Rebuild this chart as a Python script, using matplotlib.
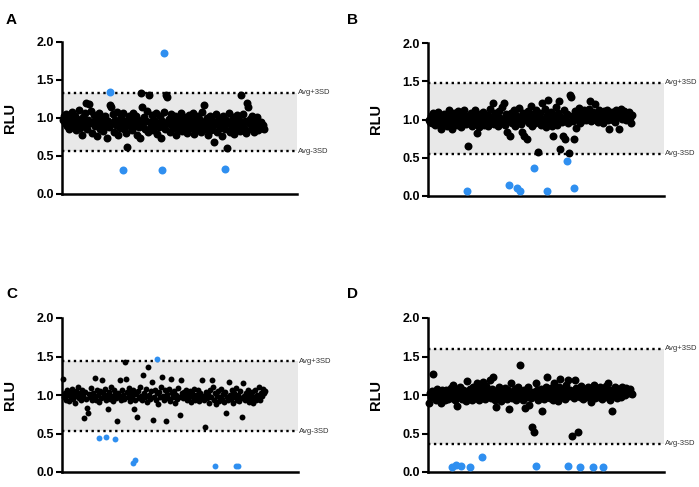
import numpy as np
import matplotlib
matplotlib.use("Agg")
import matplotlib.pyplot as plt
import matplotlib.transforms as mtransforms

plt.rcParams['font.family'] = ['Liberation Sans', 'DejaVu Sans']

# ---------------- data ----------------
panel_labels = ["A", "B", "C", "D"]

a_black = [0.97, 1.02, 0.93, 1.05, 0.90, 0.98, 0.86, 1.00, 0.94, 1.08, 0.88, 0.95, 1.03, 0.84, 0.99, 0.92, 1.10, 0.87, 0.96, 0.78,
           1.01, 0.91, 1.06, 1.20, 0.85, 0.97, 1.19, 0.93, 1.09, 0.80, 0.95, 1.04, 0.89, 0.99, 0.76, 0.94, 1.07, 0.86, 1.00, 0.92,
           0.83, 0.98, 1.03, 0.90, 0.74, 0.96, 0.88, 1.17, 1.14, 0.93, 1.05, 0.82, 0.97, 0.91, 1.08, 0.78, 0.95, 0.87, 1.01, 0.93,
           1.06, 0.85, 0.96, 0.80, 0.62, 0.92, 1.03, 0.89, 0.99, 0.84, 1.07, 0.94, 0.90, 1.02, 0.78, 0.97, 0.88, 0.74, 1.33, 1.14,
           0.93, 1.01, 0.86, 0.96, 1.09, 0.81, 1.30, 0.95, 0.90, 1.04, 0.84, 0.98, 0.92, 1.06, 0.79, 0.94, 0.88, 1.02, 0.74, 0.96,
           0.91, 1.08, 0.85, 1.30, 1.27, 0.93, 0.99, 0.82, 1.05, 0.90, 0.96, 0.87, 1.03, 0.78, 0.94, 1.00, 0.86, 0.97, 0.92, 1.07,
           0.83, 0.95, 1.01, 0.89, 0.98, 0.80, 0.93, 1.04, 0.87, 0.96, 0.91, 1.06, 0.79, 0.99, 0.85, 0.94, 1.02, 0.88, 0.97, 0.82,
           1.08, 0.93, 1.17, 0.86, 0.95, 1.00, 0.78, 0.91, 1.03, 0.84, 0.97, 0.89, 0.69, 0.94, 1.05, 0.81, 0.92, 0.99, 0.87, 0.96,
           0.76, 1.02, 0.90, 0.85, 0.97, 0.60, 0.93, 1.06, 0.82, 0.95, 0.88, 1.01, 0.79, 0.94, 0.86, 1.04, 0.91, 0.98, 0.83, 1.30,
           0.92, 1.05, 0.87, 0.96, 0.80, 1.20, 1.15, 0.93, 0.99, 0.85, 1.03, 0.90, 0.82, 0.97, 0.88, 1.01, 0.84, 0.93, 0.89, 0.95,
           0.87, 0.91, 0.86]
a_blue_x = [47, 60, 101, 99, 163]
a_blue_y = [1.34, 0.31, 1.85, 0.31, 0.33]
a_upper, a_lower = 1.33, 0.56

b_black = [1.00, 0.97, 1.04, 0.95, 1.08, 1.01, 0.93, 1.06, 0.99, 1.10, 0.96, 1.03, 0.87, 1.02, 0.94, 1.07, 0.98, 1.05, 0.92, 1.01,
           1.12, 0.95, 1.03, 0.88, 1.00, 1.09, 0.97, 1.04, 0.93, 1.11, 0.99, 1.02, 0.90, 1.06, 0.96, 1.13, 1.00, 0.94, 1.05, 0.65,
           1.01, 0.97, 1.08, 0.92, 1.03, 0.99, 1.12, 0.95, 0.82, 1.04, 0.90, 1.07, 1.00, 0.96, 1.10, 0.93, 1.02, 0.98, 1.06, 0.91,
           1.04, 1.14, 0.97, 1.01, 1.22, 0.94, 1.08, 0.99, 1.05, 0.92, 1.11, 1.02, 0.96, 1.16, 1.00, 1.22, 0.93, 1.07, 0.84, 1.03,
           0.98, 0.79, 1.09, 0.95, 1.04, 1.13, 0.91, 1.06, 1.00, 0.97, 1.15, 1.02, 0.94, 0.84, 1.08, 0.78, 0.99, 1.05, 0.74, 1.11,
           0.96, 1.03, 1.18, 0.92, 1.07, 1.00, 0.95, 1.12, 1.04, 0.58, 0.98, 1.09, 0.93, 1.21, 1.01, 0.97, 1.14, 0.90, 1.06, 1.25,
           1.02, 0.95, 1.10, 0.91, 0.78, 1.05, 0.99, 1.16, 0.93, 1.08, 1.24, 0.62, 1.03, 0.97, 0.78, 1.13, 0.74, 1.00, 1.07, 0.95,
           0.56, 1.32, 1.29, 1.04, 0.98, 0.74, 1.11, 0.89, 1.06, 1.01, 1.15, 0.96, 1.09, 1.03, 0.99, 1.12, 1.05, 1.00, 1.08, 1.02,
           1.14, 1.24, 0.98, 1.06, 1.10, 1.03, 1.20, 1.00, 1.07, 0.97, 1.12, 1.04, 1.09, 1.01, 0.95, 1.11, 1.06, 1.02, 1.13, 0.99,
           0.87, 1.08, 1.04, 1.10, 1.00, 1.06, 0.97, 1.12, 1.03, 1.09, 0.88, 1.05, 1.14, 1.01, 1.07, 1.11, 1.03, 0.99, 1.08, 1.04,
           1.10, 1.02, 0.95, 1.06]
b_blue_x = [38, 80, 88, 91, 105, 118, 138, 145]
b_blue_y = [0.065, 0.15, 0.11, 0.07, 0.37, 0.07, 0.46, 0.10]
b_upper, b_lower = 1.48, 0.55

c_black = [1.21, 0.98, 1.03, 0.94, 1.06, 1.00, 0.92, 1.04, 0.97, 1.08, 0.95, 1.01, 0.90, 1.05, 0.99, 1.10, 0.96, 1.02, 0.93, 1.07,
           0.99, 0.70, 1.04, 0.95, 0.83, 0.76, 1.01, 0.97, 1.09, 0.93, 1.03, 0.98, 1.22, 0.94, 1.06, 1.00, 0.91, 1.05, 0.96, 1.19,
           1.02, 0.97, 1.08, 0.93, 1.00, 0.82, 1.04, 0.95, 1.10, 0.99, 0.92, 1.06, 1.01, 0.96, 0.66, 1.03, 0.98, 1.19, 0.94, 1.07,
           1.00, 0.95, 1.43, 1.21, 1.04, 0.97, 1.09, 0.92, 1.02, 0.98, 1.06, 0.82, 0.94, 1.01, 0.71, 1.05, 0.96, 1.11, 0.99, 0.93,
           1.26, 1.03, 0.97, 1.08, 0.91, 1.36, 1.00, 0.95, 1.05, 1.17, 0.68, 0.98, 1.07, 0.93, 1.02, 0.88, 1.04, 0.97, 1.10, 1.24,
           0.99, 0.94, 1.06, 0.66, 1.01, 0.96, 1.08, 0.92, 1.21, 1.03, 0.98, 1.05, 0.90, 1.00, 0.95, 1.09, 0.97, 0.74, 1.20, 1.02,
           0.96, 1.04, 0.99, 1.07, 0.93, 1.01, 0.97, 1.05, 0.91, 1.03, 0.98, 1.08, 0.94, 1.00, 0.95, 1.06, 0.92, 1.02, 0.97, 1.20,
           0.99, 0.93, 0.58, 1.04, 0.96, 1.01, 0.90, 1.06, 0.97, 1.19, 1.10, 0.94, 1.02, 0.88, 0.99, 1.05, 0.92, 0.97, 1.08, 0.95,
           1.01, 0.91, 1.04, 0.76, 0.98, 0.93, 1.17, 1.00, 0.95, 1.06, 0.89, 1.02, 0.97, 1.09, 0.94, 1.00, 0.92, 1.05, 0.96, 0.71,
           1.16, 0.99, 0.93, 1.03, 0.97, 1.07, 0.91, 1.01, 0.95, 1.04, 0.90, 0.98, 1.06, 0.94, 1.00, 0.96, 1.10, 0.93, 1.03, 0.99,
           1.08, 1.02, 1.05]
c_blue_x = [36, 43, 52, 70, 72, 94, 152, 173, 175]
c_blue_y = [0.44, 0.46, 0.43, 0.12, 0.16, 1.47, 0.08, 0.08, 0.08]
c_upper, c_lower = 1.44, 0.53

d_black = [0.89, 1.02, 0.97, 1.05, 1.27, 0.99, 1.04, 0.94, 1.08, 1.00, 0.96, 1.03, 0.89, 1.06, 0.98, 1.01, 0.93, 1.07, 1.00, 0.95,
           1.04, 0.99, 1.09, 0.96, 1.13, 1.02, 0.94, 1.06, 0.86, 1.00, 0.97, 1.10, 1.03, 0.95, 1.07, 0.99, 1.05, 0.92, 1.18, 1.01,
           0.97, 1.08, 1.03, 0.94, 1.11, 1.00, 1.06, 0.96, 1.15, 1.02, 0.93, 1.09, 1.04, 0.98, 1.17, 1.01, 0.95, 1.12, 1.06, 0.99,
           1.03, 1.19, 0.96, 1.08, 1.23, 1.01, 0.94, 0.84, 1.05, 0.98, 1.10, 1.02, 0.92, 1.06, 1.00, 0.97, 1.09, 1.03, 0.95, 1.07,
           0.82, 1.01, 1.16, 0.96, 1.04, 0.99, 1.08, 0.93, 1.02, 1.11, 0.97, 1.39, 1.05, 1.00, 0.94, 1.07, 0.83, 1.03, 0.98, 1.10,
           0.87, 1.01, 0.96, 0.58, 1.04, 0.52, 0.99, 1.16, 1.06, 0.93, 1.02, 0.97, 1.08, 0.79, 1.00, 0.95, 1.05, 1.11, 1.24, 0.98,
           1.03, 0.96, 1.09, 1.01, 0.94, 1.16, 1.06, 0.99, 1.04, 0.92, 1.10, 1.21, 1.02, 0.97, 1.08, 1.00, 0.95, 1.13, 1.05, 1.20,
           0.99, 1.07, 1.02, 0.47, 1.04, 0.96, 1.19, 1.09, 1.01, 0.52, 1.06, 0.98, 1.12, 1.03, 0.95, 1.08, 1.00, 1.05, 0.97, 1.10,
           1.02, 1.07, 0.91, 0.99, 1.04, 1.13, 0.96, 1.09, 1.01, 1.06, 0.98, 1.11, 1.03, 0.95, 1.08, 1.00, 1.05, 1.12, 0.97, 1.16,
           1.02, 0.94, 1.07, 0.79, 1.04, 0.99, 1.10, 1.03, 0.96, 1.08, 1.01, 1.05, 0.98, 1.11, 1.03, 1.07, 1.00, 1.09, 1.04, 1.06,
           1.02, 1.08, 1.03, 1.01]
d_blue_x = [23, 27, 32, 41, 53, 107, 139, 151, 164, 174]
d_blue_y = [0.06, 0.09, 0.08, 0.06, 0.20, 0.08, 0.08, 0.06, 0.07, 0.06]
d_upper, d_lower = 1.60, 0.37

y_ticks = [0.0, 0.5, 1.0, 1.5, 2.0]
y_ticklabels = ["0.0", "0.5", "1.0", "1.5", "2.0"]
upper_label = "Avg+3SD"
lower_label = "Avg-3SD"
y_label = "RLU"

panels = [
    (a_black, a_blue_x, a_blue_y, a_upper, a_lower, 33),
    (b_black, b_blue_x, b_blue_y, b_upper, b_lower, 33),
    (c_black, c_blue_x, c_blue_y, c_upper, c_lower, 18),
    (d_black, d_blue_x, d_blue_y, d_upper, d_lower, 33),
]

# ---------------- layout ----------------
W, H = 699, 487
fig = plt.figure(figsize=(W / 100, H / 100), dpi=100)
rects = [
    (62 / W, (H - 194) / H, 235 / W, 152 / H),
    (428 / W, (H - 196) / H, 236 / W, 153 / H),
    (62 / W, (H - 472) / H, 236 / W, 154 / H),
    (428 / W, (H - 472) / H, 236 / W, 154 / H),
]
letter_pos = [(6, 24), (347, 24), (6, 298), (347, 298)]

blue = "#2f8ff0"

for (black, bx, by, up, lo, s), rect, lab, lp in zip(panels, rects, panel_labels, letter_pos):
    ax = fig.add_axes(rect)
    x = np.arange(len(black))
    ax.axhspan(lo, up, color="#e8e8e8", zorder=0, lw=0)
    ax.axhline(up, color="black", lw=1.7, ls=(0, (1, 1.5)), zorder=1)
    ax.axhline(lo, color="black", lw=1.7, ls=(0, (1, 1.5)), zorder=1)
    ax.scatter(x, black, s=s, color="black", lw=0, zorder=3, clip_on=False)
    ax.scatter(bx, by, s=s, color=blue, lw=0, zorder=4, clip_on=False)
    ax.set_xlim(-1, 235)
    ax.set_ylim(0, 2.0)
    ax.set_yticks(y_ticks)
    ax.set_yticklabels(y_ticklabels, fontweight="bold", fontsize=9)
    ax.set_xticks([])
    for sp in ["top", "right"]:
        ax.spines[sp].set_visible(False)
    for sp in ["left", "bottom"]:
        ax.spines[sp].set_linewidth(1.8)
    ax.tick_params(axis="y", length=4, width=1.5, pad=2)
    ax.set_ylabel(y_label, fontweight="bold", fontsize=10.5, labelpad=14)
    trans = mtransforms.blended_transform_factory(ax.transAxes, ax.transData)
    ax.text(1.006, up, upper_label, transform=trans, fontsize=5.5, va="center", ha="left", color="#333333")
    ax.text(1.006, lo, lower_label, transform=trans, fontsize=5.5, va="center", ha="left", color="#333333")
    fig.text(lp[0] / W, 1 - lp[1] / H, lab, fontweight="bold", fontsize=11, ha="left", va="baseline")

fig.savefig("out.png", dpi=100)
